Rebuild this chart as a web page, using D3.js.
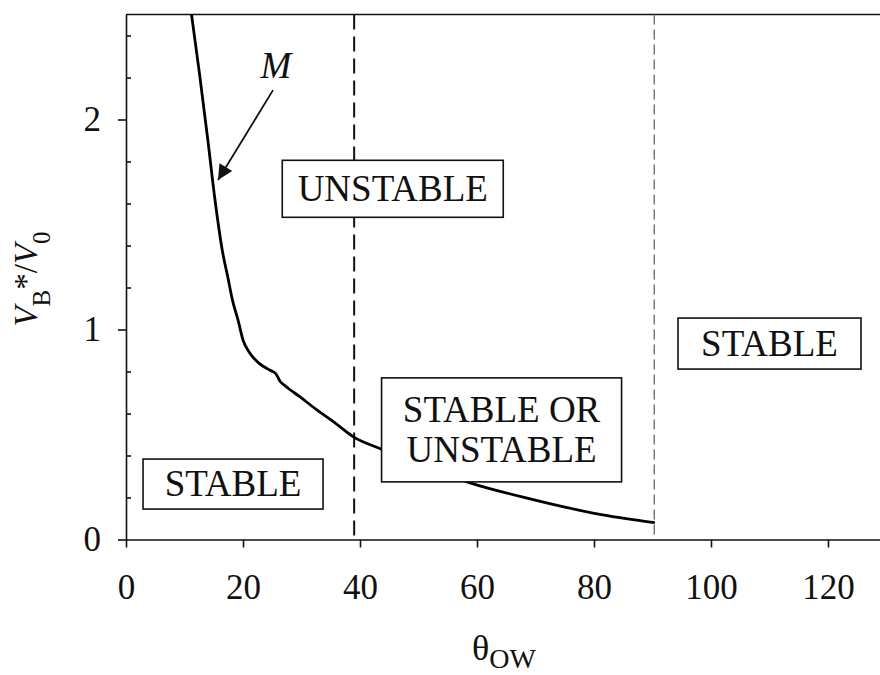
<!DOCTYPE html>
<html>
<head>
<meta charset="utf-8">
<script src="https://cdn.jsdelivr.net/npm/d3@7"></script>
<style>
  body { margin: 0; background: #fff; }
  svg { display: block; font-family: "Liberation Serif", "Times New Roman", serif; }
  .axis path, .axis line { stroke: #111; stroke-width: 1.6; }
  .axis text { font-family: "Liberation Serif", "Times New Roman", serif; font-size: 35px; fill: #111; }
</style>
</head>
<body>
<div id="chart"></div>
<script>
// curve M
const thetaOW = [11.2, 12.6, 14.0, 15.2, 16.5, 17.4, 18.2, 19.2, 20.0, 21.1, 22.7, 24.7, 25.6, 26.3, 27.3, 29.7, 32.5, 35.5, 38.8, 43.7, 50.3, 58.8, 69.6, 79.8, 81.5, 90.4];
const vbRatio = [2.50, 2.21, 1.90, 1.62, 1.37, 1.25, 1.14, 1.04, 0.95, 0.89, 0.84, 0.805, 0.79, 0.755, 0.73, 0.68, 0.62, 0.56, 0.49, 0.43, 0.355, 0.27, 0.19, 0.126, 0.117, 0.08];

const xTicks = [0, 20, 40, 60, 80, 100, 120];
const yTicks = [0, 1, 2];
const yMinorTicks = [0.2, 0.4, 0.6, 0.8, 1.2, 1.4, 1.6, 1.8, 2.2, 2.4];
const boundaries = [39, 90.3];

const regionLabels = [["UNSTABLE"], ["STABLE"], ["STABLE"], ["STABLE OR", "UNSTABLE"]];
const regionX = [45.6, 18.3, 110.0, 64.2];
const regionY = [1.67, 0.264, 0.933, 0.522];
const regionW = [221, 180, 183, 240];
const regionH = [57, 50, 51, 104];

const margin = ({top: 14.5, right: 0, bottom: 135.5, left: 126});
const width = 880 - margin.left,
      height = 675 - margin.top - margin.bottom;
const pxPerUnit = 5.85;

const svg = d3.select("#chart")
              .append("svg")
              .attr("width", 880)
              .attr("height", 675);
const g = svg.append("g")
             .attr("transform", `translate(${margin.left},${margin.top})`);

const x = d3.scaleLinear().domain([0, 130]).range([0, 130 * pxPerUnit]);
const y = d3.scaleLinear().domain([0, 2.5]).range([height, 0]);

// frame top line
g.append("line")
 .attr("x1", 0).attr("x2", width)
 .attr("y1", 0).attr("y2", 0)
 .attr("stroke", "#111").attr("stroke-width", 1.6);

// boundary dashed lines
g.selectAll(".bound")
 .data(boundaries)
 .enter()
 .append("line")
 .attr("class", "bound")
 .attr("x1", d => x(d)).attr("x2", d => x(d))
 .attr("y1", 0).attr("y2", height)
 .attr("stroke", (d, i) => i === 0 ? "#111" : "#666")
 .attr("stroke-width", (d, i) => i === 0 ? 2 : 1.3)
 .attr("stroke-dasharray", (d, i) => i === 0 ? "15,7" : "10,5");

// curve
const pts = thetaOW.map((t, i) => [t, vbRatio[i]]);
g.append("path")
 .datum(pts)
 .attr("fill", "none")
 .attr("stroke", "#000")
 .attr("stroke-width", 2.8)
 .attr("stroke-linejoin", "round")
 .attr("d", d3.line().x(d => x(d[0])).y(d => y(d[1])).curve(d3.curveMonotoneX));

// axes
const xAxis = d3.axisBottom(x).tickValues(xTicks).tickSize(8).tickSizeOuter(0).tickPadding(27);
const yAxis = d3.axisLeft(y).tickValues(yTicks).tickFormat(d3.format("d")).tickSize(8).tickSizeOuter(0).tickPadding(17);
const yMinor = d3.axisRight(y).tickValues(yMinorTicks).tickSize(5).tickSizeOuter(0).tickFormat("");

g.append("g")
 .attr("class", "axis x-axis")
 .attr("transform", `translate(0,${height})`)
 .call(xAxis)
 .select(".domain").attr("d", `M0,0.5H${width}`);
g.append("g")
 .attr("class", "axis y-axis")
 .call(yAxis);
g.append("g")
 .attr("class", "axis y-minor")
 .call(yMinor)
 .select(".domain").remove();

// region boxes
const boxes = g.selectAll(".region")
               .data(regionLabels)
               .enter()
               .append("g")
               .attr("class", "region")
               .attr("transform", (d, i) => `translate(${x(regionX[i])},${y(regionY[i])})`);
boxes.append("rect")
     .attr("x", (d, i) => -regionW[i] / 2)
     .attr("y", (d, i) => -regionH[i] / 2)
     .attr("width", (d, i) => regionW[i])
     .attr("height", (d, i) => regionH[i])
     .attr("fill", "#fff")
     .attr("stroke", "#111")
     .attr("stroke-width", 1.6);
boxes.each(function(lines) {
    const n = lines.length;
    d3.select(this).selectAll("text")
      .data(lines)
      .enter()
      .append("text")
      .attr("text-anchor", "middle")
      .attr("x", 0)
      .attr("y", (d, j) => (j - (n - 1) / 2) * 40 + 12)
      .attr("font-size", "37px")
      .attr("fill", "#111")
      .text(d => d);
});

// M label and arrow
g.append("text")
 .attr("x", x(23.0))
 .attr("y", y(2.198))
 .attr("font-size", "37px")
 .attr("font-style", "italic")
 .attr("fill", "#111")
 .text("M");
svg.append("defs")
   .append("marker")
   .attr("id", "head")
   .attr("viewBox", "0 0 10 10")
   .attr("refX", 10).attr("refY", 5)
   .attr("markerWidth", 19).attr("markerHeight", 15)
   .attr("markerUnits", "userSpaceOnUse")
   .attr("orient", "auto")
   .append("path")
   .attr("d", "M0,0L10,5L0,10Z")
   .attr("fill", "#111");
g.append("line")
 .attr("x1", x(25.13)).attr("y1", y(2.14))
 .attr("x2", x(15.73)).attr("y2", y(1.712))
 .attr("stroke", "#111").attr("stroke-width", 1.8)
 .attr("marker-end", "url(#head)");

// y title
const yTitle = svg.append("text")
                  .attr("transform", "translate(37,279) rotate(-90)")
                  .attr("text-anchor", "middle")
                  .attr("fill", "#111")
                  .attr("font-size", "33px");
yTitle.append("tspan").attr("font-style", "italic").text("V");
yTitle.append("tspan").attr("font-size", "25px").attr("dy", 13).text("B");
yTitle.append("tspan").attr("dy", -13).text("*/");
yTitle.append("tspan").attr("font-style", "italic").text("V");
yTitle.append("tspan").attr("font-size", "25px").attr("dy", 13).text("0");

// x title
const xTitle = svg.append("text")
                  .attr("x", 504)
                  .attr("y", 660)
                  .attr("text-anchor", "middle")
                  .attr("fill", "#111")
                  .attr("font-size", "36px");
xTitle.append("tspan").text("θ");
xTitle.append("tspan").attr("font-size", "28px").attr("dy", 8).text("OW");
</script>
</body>
</html>
